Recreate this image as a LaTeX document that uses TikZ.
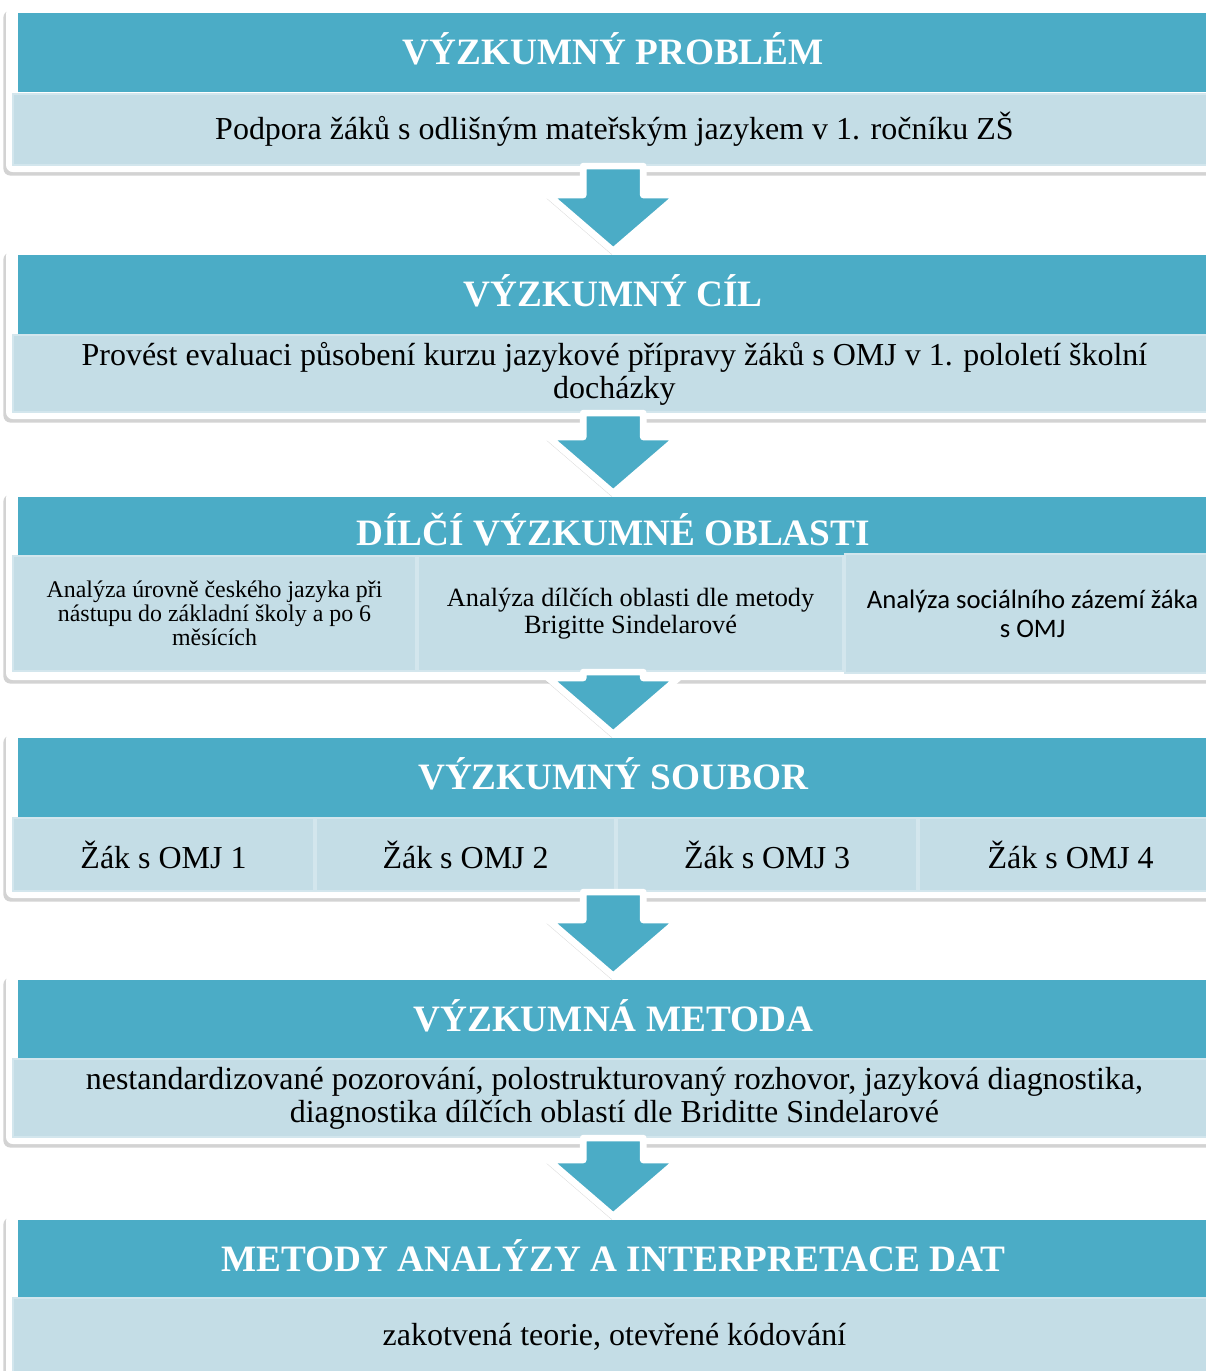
\documentclass[tikz,border=0pt]{standalone}
\usepackage{fontspec}
\setmainfont{Liberation Serif}
\newfontfamily\calfont{Carlito}
\usetikzlibrary{calc,positioning,shadows,fit,backgrounds}

\definecolor{headteal}{HTML}{4BACC6}
\definecolor{bodyblue}{HTML}{C4DDE6}
\definecolor{edgeblue}{HTML}{D3E6ED}

\tikzset{
  head/.style={fill=headteal, text=white, anchor=north west, inner sep=0pt,
    minimum width=23.8cm, minimum height=1.58cm, text height=14.8pt, text depth=1pt,
    font=\fontsize{21.2}{24}\selectfont\bfseries},
  body/.style={fill=bodyblue, draw=edgeblue, line width=1.2pt, anchor=north west,
    inner sep=0pt, align=center, font=\fontsize{18.2}{18.6}\selectfont},
  subbox/.style={body, font=\fontsize{13.6}{13.6}\selectfont},
  frame/.style={fill=white, rounded corners=4pt, inner sep=0.12cm,
    drop shadow={shadow xshift=-1.5pt, shadow yshift=-2pt, opacity=0.35}},
  flowarr/.style={fill=headteal, draw=white, line width=3.8pt, line join=round,
    drop shadow={shadow xshift=-1pt, shadow yshift=-2pt, opacity=0.3}}
}

% big down arrow from the upper section (#1) to the next header (#2)
\newcommand{\flowarrow}[2]{%
  \draw[flowarr]
    ($(#2.north |- #1.south)+(-30,0)$) -- ($(#2.north)+(-30,-60)$)
    -- ($(#2.north)+(-65,-60)$) -- ($(#2.north)+(0,-4)$)
    -- ($(#2.north)+(65,-60)$) -- ($(#2.north)+(30,-60)$)
    -- ($(#2.north |- #1.south)+(30,0)$) -- cycle;}

\begin{document}
\begin{tikzpicture}[x=0.02cm, y=-0.02cm]
  \useasboundingbox (0,0) rectangle (1205,1371);

  % problem
  \node[head] (hdr1) at (18,13) {VÝZKUMNÝ PROBLÉM};
  \node[body, minimum width=24.06cm, minimum height=1.42cm] (body1) at (12,93)
    {Podpora žáků s odlišným mateřským jazykem v 1. ročníku ZŠ};

  % goal
  \node[head] (hdr2) at (18,255) {VÝZKUMNÝ CÍL};
  \node[body, minimum width=24.06cm, minimum height=1.54cm] (body2) at (12,334)
    {Provést evaluaci působení kurzu jazykové přípravy žáků s OMJ v 1. pololetí školní\\docházky};

  % areas
  \node[head, minimum height=1.2cm, text height=21.6pt] (hdr3) at (18,497) {DÍLČÍ VÝZKUMNÉ OBLASTI};
  \node[subbox, minimum width=8.06cm, minimum height=2.3cm] (area1) at (12,555)
    {Analýza úrovně českého jazyka při\\nástupu do základní školy a po 6\\měsících};
  \node[subbox, anchor=west, minimum width=8.5cm, minimum height=2.3cm,
    font=\fontsize{15}{15.5}\selectfont, right=0pt of area1] (area2)
    {Analýza dílčích oblasti dle metody\\Brigitte Sindelarové};
  \node[subbox, anchor=west, minimum width=7.5cm, minimum height=2.38cm,
    font=\fontsize{15.2}{16.5}\selectfont\calfont, right=0pt of area2] (area3)
    {Analýza sociálního zázemí žáka\\s OMJ};

  % sample
  \node[head] (hdr4) at (18,738) {VÝZKUMNÝ SOUBOR};
  \node[body, minimum width=6.02cm, minimum height=1.46cm] (pupil1) at (12,817) {Žák s OMJ 1};
  \node[body, anchor=west, minimum width=5.98cm, minimum height=1.46cm,
    right=0pt of pupil1] (pupil2) {Žák s OMJ 2};
  \node[body, anchor=west, minimum width=6cm, minimum height=1.46cm,
    right=0pt of pupil2] (pupil3) {Žák s OMJ 3};
  \node[body, anchor=west, minimum width=6.06cm, minimum height=1.46cm,
    right=0pt of pupil3] (pupil4) {Žák s OMJ 4};

  % method
  \node[head] (hdr5) at (18,980) {VÝZKUMNÁ METODA};
  \node[body, minimum width=24.06cm, minimum height=1.56cm] (body5) at (12,1058)
    {nestandardizované pozorování, polostrukturovaný rozhovor, jazyková diagnostika,\\diagnostika dílčích oblastí dle Briditte Sindelarové};

  % analysis
  \node[head] (hdr6) at (18,1220) {METODY ANALÝZY A INTERPRETACE DAT};
  \node[body, minimum width=24.06cm, minimum height=1.56cm] (body6) at (12,1297)
    {zakotvená teorie, otevřené kódování};

  \begin{scope}[on background layer]
    \node[frame, fit=(hdr1)(body1)] (frame1) {};
    \node[frame, fit=(hdr2)(body2)] (frame2) {};
    \node[frame, fit=(hdr3)(area1)(area3)] (frame3) {};
    \node[frame, fit=(hdr4)(pupil1)(pupil4)] (frame4) {};
    \node[frame, fit=(hdr5)(body5)] (frame5) {};
    \node[frame, fit=(hdr6)(body6)] (frame6) {};
  \end{scope}

  \flowarrow{body1}{hdr2}
  \flowarrow{body2}{hdr3}
  \flowarrow{area2}{hdr4}
  \flowarrow{pupil2}{hdr5}
  \flowarrow{body5}{hdr6}

\end{tikzpicture}
\end{document}
